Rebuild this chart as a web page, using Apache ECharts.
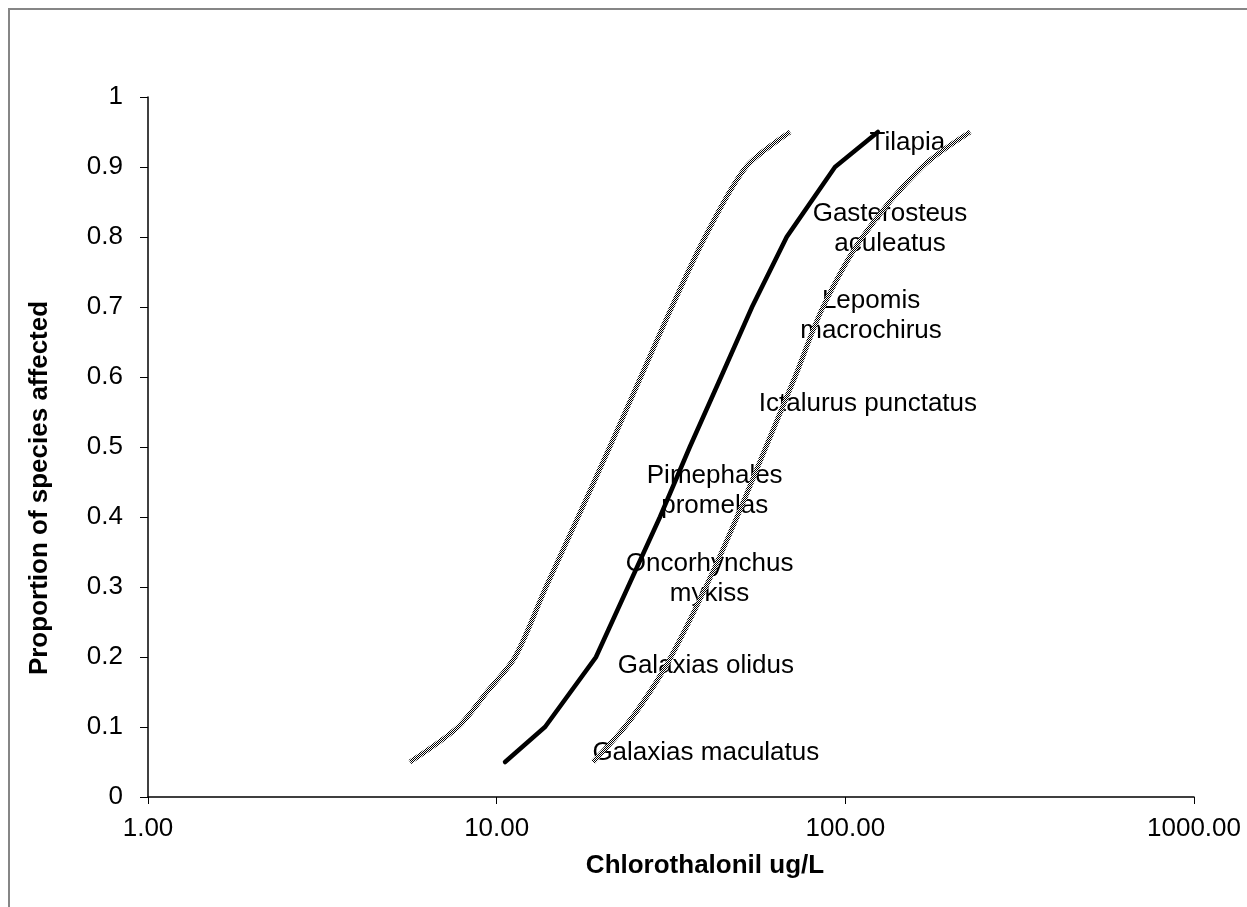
<!DOCTYPE html>
<html>
<head>
<meta charset="utf-8">
<script src="https://cdn.jsdelivr.net/npm/echarts@6/dist/echarts.min.js"></script>
<style>html,body{margin:0;padding:0;background:#fff}#c{width:1247px;height:907px}</style>
</head>
<body>
<div id="c"></div>
<script>
// ---- data ----
const medianLevels = [0.05, 0.1, 0.2, 0.3, 0.4, 0.5, 0.6, 0.7, 0.8, 0.9, 0.95];
const medianConc   = [10.57, 13.76, 19.27, 23.8, 29.4, 35.8, 44.0, 54.0, 67.9, 93.4, 124];
const bandLevels   = [0.05, 0.1, 0.15, 0.2, 0.3, 0.4, 0.5, 0.6, 0.7, 0.8, 0.9, 0.95];
const lowerConc    = [5.64, 7.75, 9.38, 11.29, 13.85, 17.12, 21.1, 25.9, 31.8, 39.6, 51.9, 69.4];
const upperConc    = [18.9, 23.3, 27.5, 31.6, 39.8, 48.9, 59.2, 71.7, 86.3, 112, 166, 228];
const speciesNames = ['Tilapia', 'Gasterosteus\naculeatus', 'Lepomis\nmacrochirus', 'Ictalurus punctatus',
                      'Pimephales\npromelas', 'Oncorhynchus\nmykiss', 'Galaxias olidus', 'Galaxias maculatus'];
const speciesConc  = [150.7, 134.3, 118.5, 116.1, 42.2, 40.8, 39.8, 39.8];
const speciesProp  = [0.935, 0.812, 0.687, 0.561, 0.437, 0.312, 0.187, 0.063];
const xTicks = [1, 10, 100, 1000];
const yTicks = [0, 0.1, 0.2, 0.3, 0.4, 0.5, 0.6, 0.7, 0.8, 0.9, 1];

// dotted pattern for confidence limits
const pc = document.createElement('canvas');
pc.width = 2; pc.height = 2;
const pctx = pc.getContext('2d');
pctx.fillStyle = '#ffffff'; pctx.fillRect(0, 0, 2, 2);
pctx.fillStyle = '#000000'; pctx.fillRect(0, 0, 1, 1); pctx.fillRect(1, 1, 1, 1);
const dotted = { image: pc, repeat: 'repeat' };

const zip = (xs, ys) => xs.map((x, i) => [x, ys[i]]);
const FONT = '"Liberation Sans", Arial, sans-serif';

const chart = echarts.init(document.getElementById('c'), null, { renderer: 'canvas' });
chart.setOption({
  backgroundColor: '#fff',
  animation: false,
  grid: { left: 148, right: 53, top: 97, bottom: 110, containLabel: false },
  xAxis: {
    type: 'log', logBase: 10, min: xTicks[0], max: xTicks[xTicks.length - 1],
    axisLine: { lineStyle: { color: '#000', width: 1.5 } },
    axisTick: { show: true, length: 7, lineStyle: { color: '#000', width: 1 } },
    axisLabel: { margin: 19, color: '#000', fontSize: 26, fontFamily: FONT,
      formatter: v => Number(v).toFixed(2) },
    splitLine: { show: false }
  },
  yAxis: {
    type: 'value', min: yTicks[0], max: yTicks[yTicks.length - 1], interval: 0.1,
    axisLine: { show: true, lineStyle: { color: '#000', width: 1.5 } },
    axisTick: { show: true, length: 8, lineStyle: { color: '#000', width: 1 } },
    axisLabel: { margin: 25, color: '#000', fontSize: 26, fontFamily: FONT,
      formatter: v => String(Math.round(v * 10) / 10) },
    splitLine: { show: false }
  },
  graphic: [
    { type: 'rect', shape: { x: 9, y: 9, width: 1260, height: 920 }, style: { fill: null, stroke: '#868686', lineWidth: 2 }, silent: true, z: -1 },
    { type: 'text', x: 40, y: 488, rotation: Math.PI / 2,
      style: { text: 'Proportion of species affected', fontSize: 26, fontWeight: 'bold', fontFamily: FONT, fill: '#000', align: 'center', verticalAlign: 'middle' } },
    { type: 'text', x: 705, y: 866,
      style: { text: 'Chlorothalonil ug/L', fontSize: 26, fontWeight: 'bold', fontFamily: FONT, fill: '#000', align: 'center', verticalAlign: 'middle' } }
  ],
  series: [
    {
      type: 'scatter', z: 1, symbolSize: 0, silent: true,
      data: speciesNames.map((n, i) => ({ name: n, value: [speciesConc[i], speciesProp[i]] })),
      itemStyle: { color: '#000', opacity: 1 },
      label: { show: true, position: 'inside', formatter: '{b}', color: '#000', opacity: 1, fontSize: 26, fontFamily: FONT,
        textBorderWidth: 0, lineHeight: 30, align: 'center', verticalAlign: 'middle' }
    },
    {
      type: 'line', z: 3, name: 'median', data: zip(medianConc, medianLevels), showSymbol: false,
      lineStyle: { color: '#000', width: 4.5, cap: 'round', join: 'miter' }
    },
    {
      type: 'line', z: 2, name: 'lower', data: zip(lowerConc, bandLevels), showSymbol: false, smooth: 0.3,
      lineStyle: { color: dotted, width: 5 }
    },
    {
      type: 'line', z: 2, name: 'upper', data: zip(upperConc, bandLevels), showSymbol: false, smooth: 0.3,
      lineStyle: { color: dotted, width: 5 }
    }
  ]
});
</script>
</body>
</html>
